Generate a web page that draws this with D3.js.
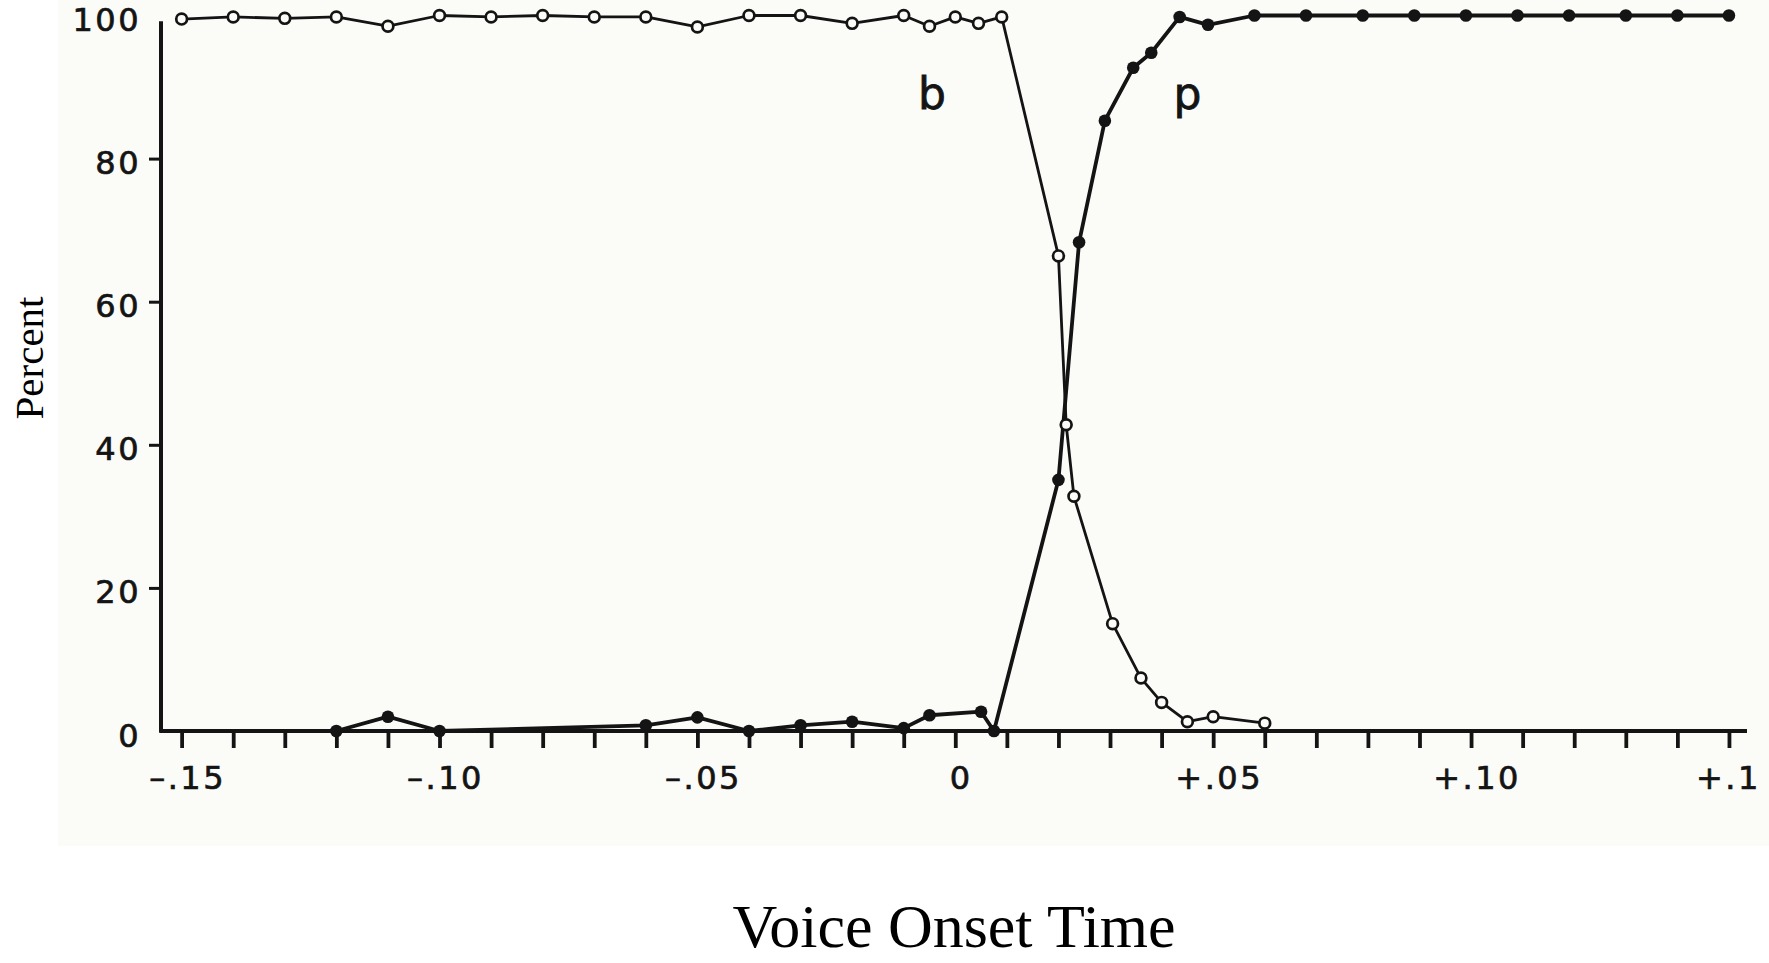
<!DOCTYPE html>
<html>
<head>
<meta charset="utf-8">
<script src="https://cdn.jsdelivr.net/npm/d3@7"></script>
<style>
  html, body { margin: 0; padding: 0; background: #ffffff; }
  svg { display: block; }
</style>
</head>
<body>
<svg id="chart" width="1769" height="963"></svg>
<script>
// ---------------- data ----------------
// "b" responses (open circles)
const bX = [-0.15, -0.14, -0.13, -0.12, -0.11, -0.10, -0.09, -0.08, -0.07, -0.06,
            -0.05, -0.04, -0.03, -0.02, -0.01, -0.005, 0, 0.0045, 0.009,
            0.02, 0.0215, 0.023, 0.0305, 0.036, 0.04, 0.045, 0.05, 0.06];
const bY = [99.5, 99.8, 99.6, 99.8, 98.5, 100, 99.8, 100, 99.8, 99.8,
            98.4, 100, 100, 98.9, 100, 98.5, 99.8, 98.9, 99.8,
            66.4, 42.8, 32.8, 15.0, 7.4, 4.0, 1.3, 2.0, 1.1];

// "p" responses (filled circles)
const pX = [-0.12, -0.11, -0.10, -0.06, -0.05, -0.04, -0.03, -0.02, -0.01, -0.005, 0.005, 0.0075,
            0.02, 0.024, 0.029, 0.0345, 0.038, 0.0435, 0.049,
            0.058, 0.068, 0.079, 0.089, 0.099, 0.109, 0.119, 0.13, 0.14, 0.15];
const pY = [0, 2.0, 0, 0.8, 1.9, 0, 0.8, 1.3, 0.4, 2.2, 2.7, 0,
            35.1, 68.3, 85.3, 92.7, 94.8, 99.8, 98.7,
            100, 100, 100, 100, 100, 100, 100, 100, 100, 100];

// axis ticks and labels
const xTickValues = d3.range(-15, 16).map(d => d / 100);
const xLabelValues = [-0.15, -0.10, -0.05, 0, 0.05, 0.10, 0.15];
const xLabelTexts  = ["\u2013.15", "\u2013.10", "\u2013.05", "0", "+.05", "+.10", "+.1"];
const yLabelValues = [0, 20, 40, 60, 80, 100];
const yTickMarks   = [20, 40, 60, 80];

const curveLabels = [{text: "b", x: -0.0045, y: 87}, {text: "p", x: 0.045, y: 87}];

// ---------------- drawing ----------------
const svg = d3.select("#chart");
const ink = "#141414";
const paper = "#fbfbf8";

// scanned-paper background
svg.append("rect").attr("x", 58).attr("y", 0).attr("width", 1711).attr("height", 846)
  .attr("fill", paper);

const x = d3.scaleLinear().domain([-0.154, 0.1535]).range([161, 1747]);
const y = d3.scaleLinear().domain([0, 100]).range([731, 15.5]);

const tickFont = "'DejaVu Sans', sans-serif";

// x axis (ticks every .01, downward)
const xAxis = d3.axisBottom(x).tickValues(xTickValues).tickSize(17).tickFormat("");
const gx = svg.append("g").attr("transform", `translate(0,${y(0)})`).call(xAxis);
gx.select(".domain").remove();
gx.selectAll(".tick line").attr("stroke", ink).attr("stroke-width", 3.8);
svg.append("line")
  .attr("x1", x(-0.154) - 1.5).attr("x2", x(0.1535))
  .attr("y1", y(0)).attr("y2", y(0))
  .attr("stroke", ink).attr("stroke-width", 4.2);

// x labels
svg.append("g").selectAll("text")
  .data(xLabelValues.map((v, i) => ({v, t: xLabelTexts[i], last: i === xLabelValues.length - 1})))
  .join("text")
  .attr("x", d => d.last ? x(d.v) - 33 : x(d.v) + 6)
  .attr("y", y(0) + 58)
  .attr("text-anchor", d => d.last ? "start" : "middle")
  .attr("font-family", tickFont)
  .attr("font-size", 32)
  .attr("letter-spacing", 2.5)
  .attr("fill", ink)
  .attr("stroke", ink).attr("stroke-width", 0.7)
  .text(d => d.t);

// y axis line
svg.append("line")
  .attr("x1", x(-0.154)).attr("x2", x(-0.154))
  .attr("y1", y(0) + 1.5).attr("y2", y(99.2))
  .attr("stroke", ink).attr("stroke-width", 4);

// y tick marks (to the left)
const yAxis = d3.axisLeft(y).tickValues(yTickMarks).tickSize(12).tickFormat("");
const gy = svg.append("g").attr("transform", `translate(${x(-0.154)},0)`).call(yAxis);
gy.select(".domain").remove();
gy.selectAll(".tick line").attr("stroke", ink).attr("stroke-width", 3);

// y labels
svg.append("g").selectAll("text")
  .data(yLabelValues)
  .join("text")
  .attr("x", x(-0.154) - 20)
  .attr("y", d => y(d) + 4)
  .attr("dy", "0.36em")
  .attr("text-anchor", "end")
  .attr("font-family", tickFont)
  .attr("font-size", 32)
  .attr("letter-spacing", 2.5)
  .attr("fill", ink)
  .attr("stroke", ink).attr("stroke-width", 0.7)
  .text(d => d);

// lines
const line = d3.line().x(d => x(d[0])).y(d => y(d[1]));
const bData = bX.map((v, i) => [v, bY[i]]);
const pData = pX.map((v, i) => [v, pY[i]]);

svg.append("path").datum(pData).attr("d", line)
  .attr("fill", "none").attr("stroke", ink).attr("stroke-width", 3.8)
  .attr("stroke-linejoin", "round");
svg.append("path").datum(bData).attr("d", line)
  .attr("fill", "none").attr("stroke", ink).attr("stroke-width", 2.8)
  .attr("stroke-linejoin", "round");

// markers
svg.append("g").selectAll("circle").data(pData).join("circle")
  .attr("cx", d => x(d[0])).attr("cy", d => y(d[1])).attr("r", 6.3)
  .attr("fill", ink);
svg.append("g").selectAll("circle").data(bData).join("circle")
  .attr("cx", d => x(d[0])).attr("cy", d => y(d[1])).attr("r", 5.4)
  .attr("fill", paper).attr("stroke", ink).attr("stroke-width", 2.7);

// curve labels
svg.append("g").selectAll("text").data(curveLabels).join("text")
  .attr("x", d => x(d.x)).attr("y", d => y(d.y))
  .attr("text-anchor", "middle")
  .attr("font-family", tickFont)
  .attr("font-size", 44)
  .attr("fill", ink)
  .attr("stroke", ink).attr("stroke-width", 0.8)
  .text(d => d.text);

// axis titles
svg.append("text")
  .attr("transform", "translate(43,358) rotate(-90)")
  .attr("text-anchor", "middle")
  .attr("font-family", "'Liberation Serif', 'Times New Roman', serif")
  .attr("font-size", 41)
  .attr("fill", "#000")
  .text("Percent");

svg.append("text")
  .attr("x", 954).attr("y", 947)
  .attr("text-anchor", "middle")
  .attr("font-family", "'Liberation Serif', 'Times New Roman', serif")
  .attr("font-size", 62)
  .attr("fill", "#000")
  .text("Voice Onset Time");
</script>
</body>
</html>
